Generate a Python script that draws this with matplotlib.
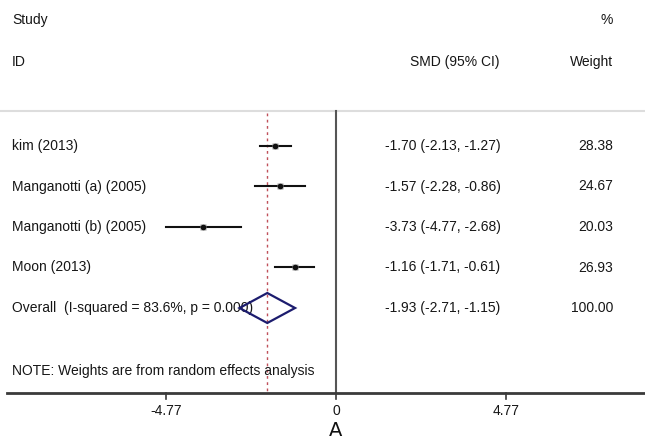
import matplotlib
matplotlib.use('Agg')
import matplotlib.pyplot as plt
import numpy as np

plt.rcParams['font.family'] = ['Liberation Sans', 'DejaVu Sans']

# study data
studies = ['kim (2013)', 'Manganotti (a) (2005)', 'Manganotti (b) (2005)', 'Moon (2013)']
smd = [-1.70, -1.57, -3.73, -1.16]
ci_low = [-2.13, -2.28, -4.77, -1.71]
ci_high = [-1.27, -0.86, -2.68, -0.61]
weights = [28.38, 24.67, 20.03, 26.93]

overall_label = 'Overall  (I-squared = 83.6%, p = 0.000)'
overall_smd = -1.93
overall_low = -2.71
overall_high = -1.15
overall_weight = 100.00

xticks = [-4.77, 0, 4.77]
note = 'NOTE: Weights are from random effects analysis'

# layout: x in SMD units, y in row units (row 0 = first study)
fig = plt.figure(figsize=(6.45, 4.4), dpi=100)
ax = fig.add_axes([0, 0, 1, 1])
px_per_unit = 35.6
x0 = 336
ax.set_xlim(-x0 / px_per_unit, (645 - x0) / px_per_unit)
row_h = 40.5
y0 = 146
ax.set_ylim((440 - y0) / row_h, -y0 / row_h)
ax.axis('off')

fs = 10
tc = '#161616'
x_lab = (12 - x0) / px_per_unit
x_ci = (385 - x0) / px_per_unit
x_w = (613 - x0) / px_per_unit
x_smd_hdr = (500 - x0) / px_per_unit

# headers
ax.text(x_lab, (20 - y0) / row_h, 'Study', fontsize=fs, color=tc, va='center')
ax.text(x_lab, (62 - y0) / row_h, 'ID', fontsize=fs, color=tc, va='center')
ax.text(x_smd_hdr, (62 - y0) / row_h, 'SMD (95% CI)', fontsize=fs, color=tc, va='center', ha='right')
ax.text(x_w, (20 - y0) / row_h, '%', fontsize=fs, color=tc, va='center', ha='right')
ax.text(x_w, (62 - y0) / row_h, 'Weight', fontsize=fs, color=tc, va='center', ha='right')

# top faint line, zero line, overall dashed line, axis line
y_top = (111 - y0) / row_h
y_axis = (393 - y0) / row_h
ax.axhline(y_top, color='#dddddd', lw=1.5)
ax.plot([0, 0], [y_top, y_axis], color='#555555', lw=1.5)
ax.plot([overall_smd, overall_smd], [y_top + 0.05, y_axis], color='#c0505a', lw=1.0,
        linestyle=(0, (2, 2.5)))
ax.plot([(7 - x0) / px_per_unit, (645 - x0) / px_per_unit], [y_axis, y_axis],
        color='#3a3a3a', lw=2)
for t in xticks:
    ax.plot([t, t], [y_axis, y_axis + 0.14], color='#3a3a3a', lw=1.2)
    ax.text(t, (411 - y0) / row_h, f'{t:g}' if t != 0 else '0', fontsize=fs,
            color=tc, ha='center', va='center')

# studies
for i, name in enumerate(studies):
    ax.text(x_lab, i, name, fontsize=fs, color=tc, va='center')
    ax.plot([ci_low[i], ci_high[i]], [i, i], color='#111111', lw=1.5)
    ax.plot(smd[i], i, marker='s', ms=4.5, mfc='#999999', mec='none')
    ax.plot(smd[i], i, marker='o', ms=3, color='#111111')
    ax.text(x_ci, i, f'{smd[i]:.2f} ({ci_low[i]:.2f}, {ci_high[i]:.2f})', fontsize=fs,
            color=tc, va='center')
    ax.text(x_w, i, f'{weights[i]:.2f}', fontsize=fs, color=tc, va='center', ha='right')

# overall
k = len(studies)
ax.text(x_lab, k, overall_label, fontsize=fs, color=tc, va='center')
dh = 15 / row_h
ax.fill([overall_low, overall_smd, overall_high, overall_smd],
        [k, k - dh, k, k + dh], facecolor='none', edgecolor='#1c1c6e', lw=1.6, zorder=3)
ax.text(x_ci, k, f'{overall_smd:.2f} ({overall_low:.2f}, {overall_high:.2f})', fontsize=fs,
        color=tc, va='center')
ax.text(x_w, k, f'{overall_weight:.2f}', fontsize=fs, color=tc, va='center', ha='right')

ax.text(x_lab, (371 - y0) / row_h, note, fontsize=fs, color=tc, va='center')

ax.text(0, (431 - y0) / row_h, 'A', fontsize=14, family='DejaVu Sans', color='#111111',
        ha='center', va='center')

fig.savefig('out.png', dpi=100)
